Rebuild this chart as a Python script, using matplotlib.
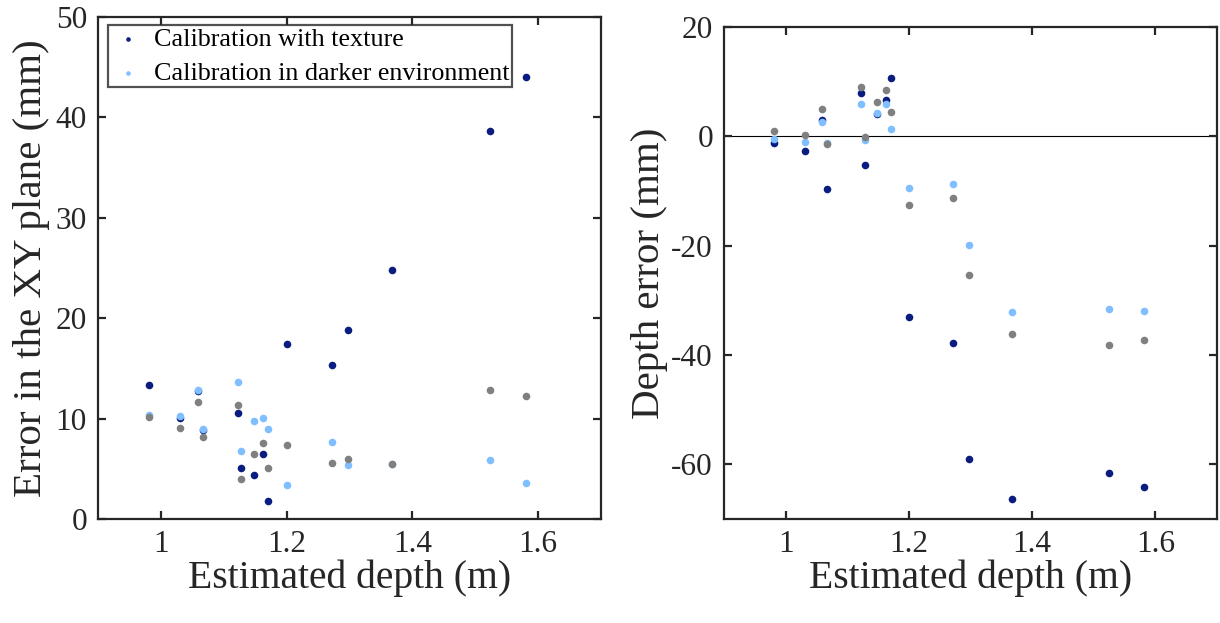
import matplotlib
matplotlib.use("Agg")
import matplotlib.pyplot as plt

# ---- data ----
depth = [0.981, 1.031, 1.059, 1.067, 1.122, 1.128, 1.148, 1.163, 1.171,
         1.201, 1.272, 1.297, 1.367, 1.524, 1.581]

xy_texture = [13.3, 10.1, 12.7, 8.9, 10.6, 5.05, 4.35, 6.5, 1.8,
              17.4, 15.3, 18.8, 24.8, 38.6, 44.0]
xy_dark = [10.4, 10.3, 12.85, 9.0, 13.6, 6.8, 9.8, 10.05, 9.0,
           3.4, 7.7, 5.4, 5.5, 5.9, 3.6]
xy_base = [10.2, 9.1, 11.7, 8.15, 11.4, 4.0, 6.5, 7.6, 5.1,
           7.4, 5.6, 6.0, 5.5, 12.8, 12.3]

dz_texture = [-1.2, -2.7, 3.05, -9.7, 8.0, -5.3, 4.0, 6.6, 10.6,
              -33.1, -37.8, -59.1, -66.4, -61.5, -64.2]
dz_dark = [-0.5, -1.0, 2.6, -1.2, 5.9, -0.7, 4.2, 5.9, 1.4,
           -9.4, -8.8, -19.9, -32.2, -31.6, -31.9]
dz_base = [1.0, 0.3, 5.05, -1.4, 9.1, -0.1, 6.3, 8.5, 4.4,
           -12.65, -11.2, -25.4, -36.2, -38.2, -37.3]

legend_labels = ["Calibration with texture", "Calibration in darker environment"]
xticks = [1, 1.2, 1.4, 1.6]
xticklabels = ["1", "1.2", "1.4", "1.6"]
yticks_left = [0, 10, 20, 30, 40, 50]
yticks_right = [-60, -40, -20, 0, 20]

# ---- style ----
C_DARK = "#0b1c80"
C_LIGHT = "#80bfff"
C_GRAY = "#808080"
TXT = "#262626"
plt.rcParams["font.family"] = ["Liberation Serif", "DejaVu Serif"]
plt.rcParams["axes.unicode_minus"] = False

fig = plt.figure(figsize=(12.2, 6.23), dpi=100)
ax1 = fig.add_axes([98 / 1220, 104 / 623, 503 / 1220, 502 / 623])
ax2 = fig.add_axes([724 / 1220, 104 / 623, 493 / 1220, 492 / 623])

S = 30

def style(ax):
    for sp in ax.spines.values():
        sp.set_linewidth(1.6)
        sp.set_color("#262626")
    ax.tick_params(direction="in", top=True, right=True, length=6, width=1.6,
                   labelsize=22.5, colors="#262626", labelcolor=TXT, pad=8)
    ax.set_xlim(0.9, 1.7)
    ax.set_xticks(xticks)
    ax.set_xticklabels(xticklabels)
    ax.set_xlabel("Estimated depth (m)", fontsize=28.5, color=TXT, labelpad=0)

# left
h1 = ax1.scatter(depth, xy_texture, s=S, color=C_DARK, linewidths=0, zorder=3)
h2 = ax1.scatter(depth, xy_dark, s=S, color=C_LIGHT, linewidths=0, zorder=3)
ax1.scatter(depth, xy_base, s=S, color=C_GRAY, linewidths=0, zorder=3)
ax1.set_ylim(0, 50)
ax1.set_yticks(yticks_left)
ax1.set_ylabel("Error in the XY plane (mm)", fontsize=29.5, color=TXT, labelpad=4)
style(ax1)
leg = ax1.legend([h1, h2], legend_labels, loc="upper left",
                 bbox_to_anchor=(0.02, 0.984), borderaxespad=0,
                 fontsize=18.8, frameon=True, fancybox=False, markerscale=0.6,
                 handletextpad=0.35, borderpad=0.1, labelspacing=0.4,
                 handlelength=1.3)
leg.get_frame().set_edgecolor("#262626")
leg.get_frame().set_linewidth(1.6)
leg.set_zorder(5)
for t in leg.get_texts():
    t.set_color("black")

# right
ax2.axhline(0, color="black", linewidth=0.8, zorder=1)
ax2.scatter(depth, dz_texture, s=S, color=C_DARK, linewidths=0, zorder=3)
ax2.scatter(depth, dz_dark, s=S, color=C_LIGHT, linewidths=0, zorder=3)
ax2.scatter(depth, dz_base, s=S, color=C_GRAY, linewidths=0, zorder=3)
ax2.set_ylim(-70, 20)
ax2.set_yticks(yticks_right)
ax2.set_ylabel("Depth error (mm)", fontsize=29.5, color=TXT, labelpad=2)
style(ax2)

fig.savefig("out.png", dpi=100)
